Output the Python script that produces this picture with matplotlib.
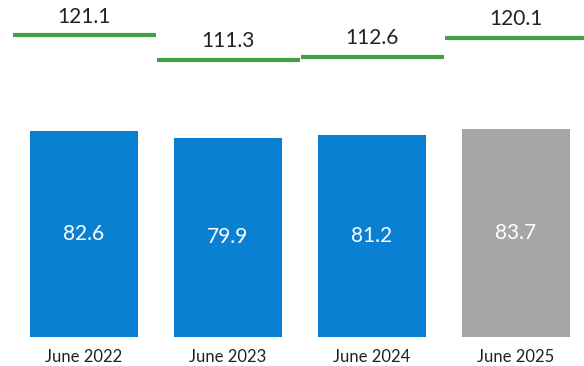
import matplotlib.pyplot as plt

# Datos
categorias = ['June 2022', 'June 2023', 'June 2024', 'June 2025']
valores_barras = [82.6, 79.9, 81.2, 83.7]
valores_linea = [121.1, 111.3, 112.6, 120.1]
colores_barras = ['#0a80d2', '#0a80d2', '#0a80d2', '#a6a6a6']

plt.rcParams['font.family'] = ['Lato', 'DejaVu Sans']

fig = plt.figure(figsize=(5.84, 3.66), dpi=100)
ax = fig.add_axes([0, 29 / 366, 1, 337 / 366])

x = range(len(categorias))
ax.bar(x, valores_barras, width=0.75, color=colores_barras)

# Etiquetas dentro de las barras
for i, v in enumerate(valores_barras):
    ax.text(i, v / 2, f'{v:.1f}', ha='center', va='center',
            color='white', fontsize=15)

# Líneas verdes por categoría con su valor encima
for i, v in enumerate(valores_linea):
    ax.hlines(v, i - 0.49, i + 0.5, color='#44a044', linewidth=3)
    ax.text(i, v + 7.5, f'{v:.1f}', ha='center', va='center',
            color='#222222', fontsize=15)

ax.set_xlim(-0.583, 3.472)
ax.set_ylim(0, 135.3)
ax.set_xticks(list(x))
ax.set_xticklabels(categorias, fontsize=12, color='#222222')
ax.tick_params(axis='x', length=0, pad=9)
ax.set_yticks([])
for s in ax.spines.values():
    s.set_visible(False)

fig.savefig('out.png', dpi=100)
